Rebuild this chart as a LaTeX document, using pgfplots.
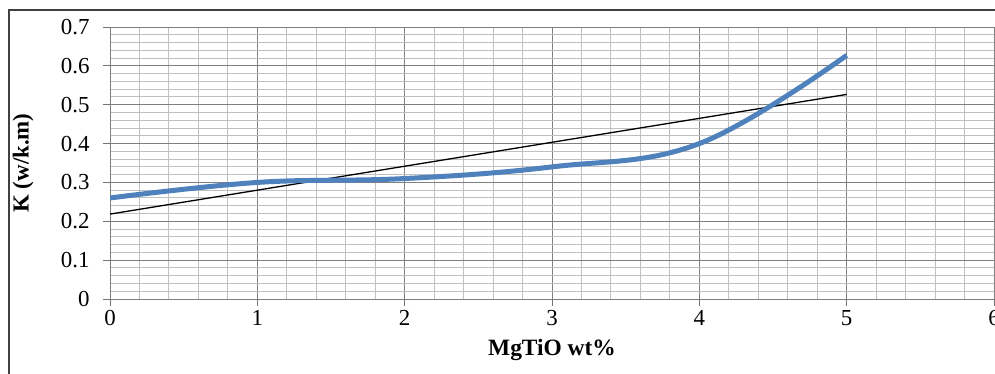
\documentclass[border=0pt]{standalone}
\usepackage{pgfplots}
\pgfplotsset{compat=1.18}
\usepackage{fontspec}
\setmainfont{Liberation Serif}
\definecolor{xlblue}{RGB}{79,129,189}
\begin{document}
\begin{tikzpicture}
\useasboundingbox (0,0) rectangle (995bp,374bp);
\draw[line width=1.5bp, black!75] (9bp,-10bp) -- (9bp,364bp) -- (1010bp,364bp);
\begin{axis}[
  at={(110bp,75bp)}, anchor=origin,
  scale only axis,
  width=884bp, height=272bp,
  xmin=0, xmax=6, ymin=0, ymax=0.7,
  xtick={0,1,...,6},
  ytick={0,0.1,...,0.7},
  yticklabel style={/pgf/number format/fixed, /pgf/number format/precision=1},
  minor x tick num=4, minor y tick num=4,
  grid=both,
  major grid style={draw=black!50, line width=0.9bp},
  minor grid style={draw=black!25, line width=1bp},
  axis line style={draw=black!50, line width=0.9bp},
  tick align=outside,
  major tick length=7bp, minor tick length=0pt,
  tick style={draw=black!55, line width=0.9bp},
  axis x line*=bottom, axis y line*=left,
  /pgf/number format/assume math mode=true,
  tick label style={font=\fontsize{23}{26}\selectfont, text=black},
  xticklabel style={yshift=-1bp},
  yticklabel style={xshift=-10bp},
  xlabel={MgTiO wt\%},
  ylabel={K (w/k.m)},
  every axis x label/.style={at={(axis description cs:0.5,-0.1875)}, anchor=center, font=\fontsize{23.5}{26}\selectfont\bfseries},
  every axis y label/.style={at={(axis description cs:-0.0984,0.5)}, rotate=90, anchor=center, font=\fontsize{23}{26}\selectfont\bfseries},
]
\addplot[black, line width=1.3bp] coordinates {(0,0.2185) (5,0.5265)};
\addplot[xlblue, line width=5bp, smooth, tension=0.65] coordinates {
  (0,0.26) (1,0.30) (2,0.31) (3,0.34) (4,0.40) (5,0.627)
};
\end{axis}
\end{tikzpicture}
\end{document}
